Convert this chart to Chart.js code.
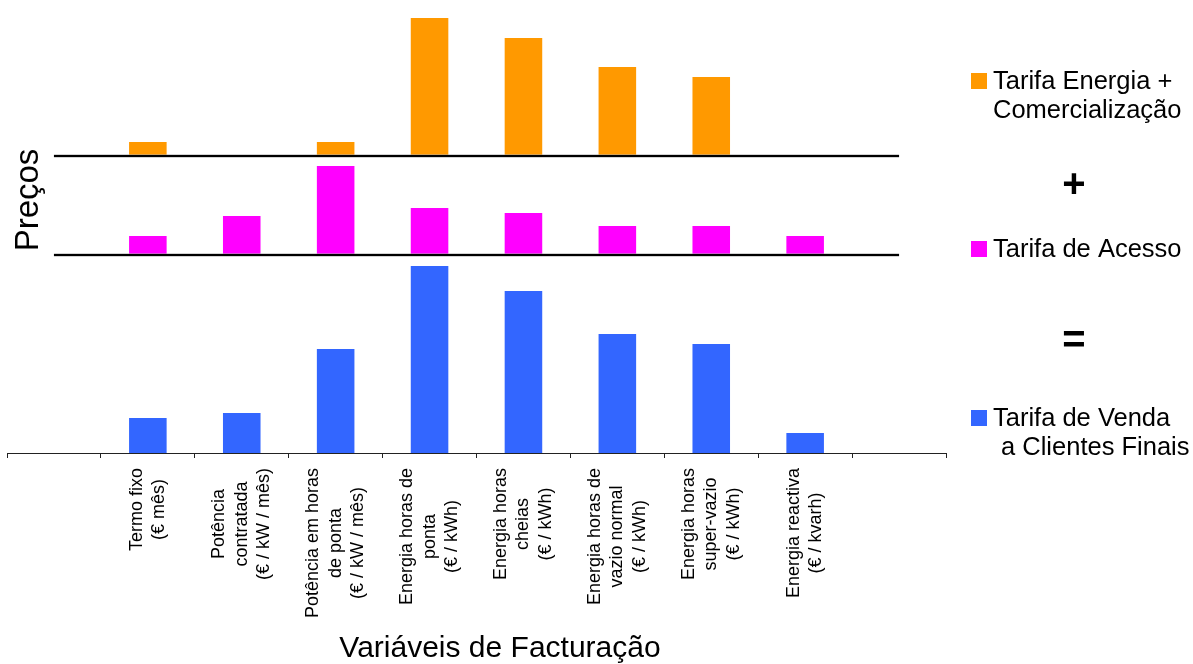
<!DOCTYPE html>
<html lang="pt">
<head>
<meta charset="utf-8">
<title>Tarifas: Energia + Acesso = Venda</title>
<script src="https://cdn.jsdelivr.net/npm/chart.js@4/dist/chart.umd.min.js"></script>
<style>
  html, body { margin: 0; padding: 0; background: #ffffff; }
  #wrap { width: 1193px; height: 664px; position: relative; }
</style>
</head>
<body>
<div id="wrap"><canvas id="c"></canvas></div>
<script>
// Billing variables (an empty slot at each end of the axis)
const categories = [
  [''],
  ['Termo fixo', '(€ mês)'],
  ['Potência', 'contratada', '(€ / kW / mês)'],
  ['Potência em horas', 'de ponta', '(€ / kW / mês)'],
  ['Energia horas de', 'ponta', '(€ / kWh)'],
  ['Energia horas', 'cheias', '(€ / kWh)'],
  ['Energia horas de', 'vazio normal', '(€ / kWh)'],
  ['Energia horas', 'super-vazio', '(€ / kWh)'],
  ['Energia reactiva', '(€ / kvarh)'],
  ['']
];

// Relative price levels per tariff component
const tarifaEnergia = [null, 14, 0, 14, 138, 118, 89, 79, 0, null];
const tarifaAcesso  = [null, 19, 39, 89, 47, 42, 29, 29, 19, null];
const tarifaVenda   = [null, 35, 40, 104, 187, 162, 119, 109, 20, null];

// Legend text (one entry per line)
const nomeEnergia = ['Tarifa Energia +', 'Comercialização'];
const nomeAcesso  = ['Tarifa de Acesso'];
const nomeVenda   = ['Tarifa de Venda', 'a Clientes Finais'];

// Upper limit of each stacked price band
const limiteEnergia = 146;
const limiteAcesso  = 99;
const limiteVenda   = 198;

const COR_ENERGIA = '#FF9900';
const COR_ACESSO  = '#FF00FF';
const COR_VENDA   = '#3366FF';
const FONT = '"Liberation Sans", Arial, Helvetica, sans-serif';

const decoracoes = {
  id: 'decoracoes',
  afterDatasetsDraw(chart) {
    const { ctx, scales } = chart;
    const x = scales.x;
    const x0 = x.getPixelForValue(0);
    const x1 = x.getPixelForValue(categories.length - 1);
    ['yEnergia', 'yAcesso'].forEach(id => {
      const y = Math.round(scales[id].getPixelForValue(0));
      ctx.save();
      ctx.fillStyle = '#a8a8a8';
      ctx.fillRect(x0, y - 1.5, x1 - x0, 3);
      ctx.fillStyle = '#000000';
      ctx.fillRect(x0, y - 1, x1 - x0, 2);
      ctx.restore();
    });
  },
  afterDraw(chart) {
    const { ctx, scales } = chart;
    const x = scales.x;
    ctx.save();
    ctx.fillStyle = '#000000';

    // rotated category labels, lines centred on each other
    ctx.font = '18px ' + FONT;
    const lineH = 22.6;
    categories.forEach((lines, i) => {
      const txt = lines.filter(l => l.length);
      if (!txt.length) return;
      const cx = x.getPixelForValue(i);
      const w = Math.max(...txt.map(l => ctx.measureText(l).width));
      const top = x.top + 15;
      ctx.save();
      ctx.translate(cx, top + w / 2);
      ctx.rotate(-Math.PI / 2);
      ctx.textAlign = 'center';
      ctx.textBaseline = 'middle';
      txt.forEach((l, k) => ctx.fillText(l, 0, (k - (txt.length - 1) / 2) * lineH));
      ctx.restore();
    });

    // axis titles
    ctx.font = '30px ' + FONT;
    ctx.textAlign = 'center';
    ctx.textBaseline = 'alphabetic';
    ctx.fillText('Variáveis de Facturação', 500, 657);

    ctx.save();
    ctx.translate(38, 200);
    ctx.rotate(-Math.PI / 2);
    ctx.font = '33px ' + FONT;
    ctx.textAlign = 'center';
    ctx.fillText('Preços', 0, 0);
    ctx.restore();

    // legend: component + component = total
    const ds = chart.data.datasets;
    const entries = [
      { color: ds[0].backgroundColor, lines: nomeEnergia, y: 89, indent: [0, 0] },
      { color: ds[1].backgroundColor, lines: nomeAcesso,  y: 257, indent: [0] },
      { color: ds[2].backgroundColor, lines: nomeVenda,   y: 426, indent: [0, 8] }
    ];
    ctx.font = '25.5px ' + FONT;
    ctx.textAlign = 'left';
    entries.forEach(e => {
      ctx.fillStyle = e.color;
      ctx.fillRect(971, e.y - 16, 16, 16);
      ctx.fillStyle = '#000000';
      e.lines.forEach((l, k) => ctx.fillText(l, 993 + e.indent[k], e.y + k * 28.5));
    });
    ctx.font = 'bold 40px ' + FONT;
    ctx.textAlign = 'center';
    ctx.textBaseline = 'middle';
    ctx.fillText('+', 1074, 186);
    ctx.fillText('=', 1074, 342);
    ctx.restore();
  }
};

const base = { grouped: false, barPercentage: 0.4, categoryPercentage: 1.0, borderWidth: 0 };

new Chart(document.getElementById('c'), {
  type: 'bar',
  data: {
    labels: categories,
    datasets: [
      Object.assign({ label: nomeEnergia.join(' '), data: tarifaEnergia, yAxisID: 'yEnergia', backgroundColor: COR_ENERGIA }, base),
      Object.assign({ label: nomeAcesso.join(' '),  data: tarifaAcesso,  yAxisID: 'yAcesso',  backgroundColor: COR_ACESSO }, base),
      Object.assign({ label: nomeVenda.join(' '),   data: tarifaVenda,   yAxisID: 'yVenda',   backgroundColor: COR_VENDA }, base)
    ]
  },
  options: {
    responsive: true,
    maintainAspectRatio: false,
    animation: false,
    layout: { padding: { left: 7, right: 247, top: 10, bottom: 206 } },
    plugins: { legend: { display: false }, tooltip: { enabled: false }, title: { display: false } },
    scales: {
      x: {
        type: 'category',
        offset: true,
        ticks: { display: false },
        grid: { display: true, offset: true, drawOnChartArea: false, drawTicks: true, tickLength: 5, color: '#222222', lineWidth: 1 },
        border: { display: true, color: '#222222', width: 1 }
      },
      yVenda:   { type: 'linear', position: 'left', stack: 'precos', stackWeight: limiteVenda,   min: 0, max: limiteVenda,   display: false },
      yAcesso:  { type: 'linear', position: 'left', stack: 'precos', stackWeight: limiteAcesso,  min: 0, max: limiteAcesso,  display: false },
      yEnergia: { type: 'linear', position: 'left', stack: 'precos', stackWeight: limiteEnergia, min: 0, max: limiteEnergia, display: false }
    }
  },
  plugins: [decoracoes]
});
</script>
</body>
</html>
